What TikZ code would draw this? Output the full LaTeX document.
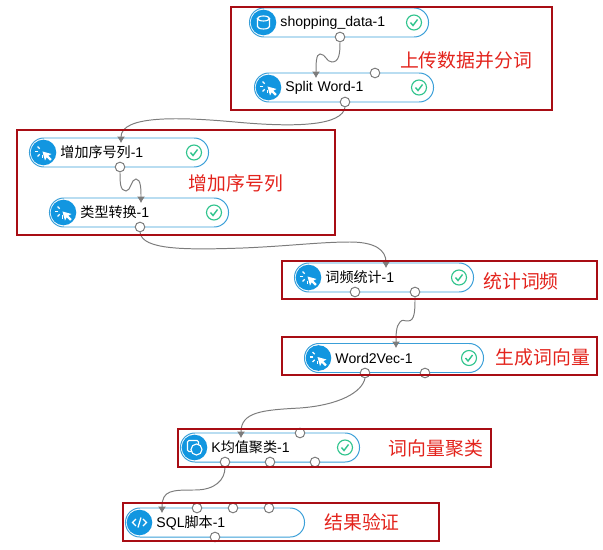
\documentclass[tikz,border=0pt]{standalone}
\usepackage{fontspec}
\setmainfont{Liberation Sans}
\newfontfamily\cjk{Noto Sans CJK SC}
\usepackage{tikz}
\usetikzlibrary{arrows.meta,calc}
\definecolor{pillblue}{HTML}{3A9FD8}
\definecolor{iconblue}{HTML}{1296E0}
\definecolor{okgreen}{HTML}{2FC48D}
\definecolor{boxred}{HTML}{A80D14}
\definecolor{notered}{HTML}{E3231C}
\definecolor{linkgray}{HTML}{7C7C7C}
\tikzset{
  okmark/.pic={
    \draw[okgreen, line width=0.8pt] (0,0) circle (7.5);
    \draw[okgreen, line width=1pt] (-3.5,0) -- (-1,3) -- (3.5,-3);
  },
  cursoricon/.pic={
    \fill[white] (-1,-1) -- (1.5,8) -- (3.2,4.8) -- (6.6,8.2) -- (8.2,6.6) -- (4.8,3.2) -- (8,1.5) -- cycle;
    \foreach \ang in {90,135,180,225,45}
      \draw[white, line width=0.9pt] (-1,-1) ++(\ang:4) -- ++(\ang:3);
  },
  dataicon/.pic={
    \draw[white, line width=0.8pt] (-6,-4) -- (-6,4) arc[start angle=180, end angle=0, x radius=6, y radius=2.5] -- (6,-4);
    \draw[white, line width=0.8pt] (0,-4) ellipse (6 and 2.5);
  },
  clustericon/.pic={
    \draw[white, line width=0.8pt, rounded corners=1pt] (-7,-7) rectangle (4,4);
    \draw[white, line width=0.8pt, fill=iconblue] (2,2) circle (5.5);
  },
  sqlicon/.pic={
    \draw[white, line width=0.9pt] (-3.5,-3.5) -- (-7,0) -- (-3.5,3.5);
    \draw[white, line width=0.9pt] (3.5,-3.5) -- (7,0) -- (3.5,3.5);
    \draw[white, line width=0.9pt] (1.5,-5) -- (-1.5,5);
  }
}
\begin{document}
\begin{tikzpicture}[
    x=0.025cm, y=-0.025cm,
    font=\fontsize{10}{12}\selectfont,
    module/.style={draw=pillblue, fill=white, rounded corners=3.6mm, minimum width=4.475cm, minimum height=0.725cm, inner xsep=0pt, text width=2.925cm, align=left, line width=0.7pt},
    iconbase/.style={circle, fill=iconblue, minimum size=0.64cm, inner sep=0pt},
    port/.style={circle, draw=linkgray, fill=white, minimum size=0.24cm, inner sep=0pt, line width=0.7pt},
    link/.style={draw=linkgray, line width=0.7pt, -{Latex[length=1.6mm, width=2mm]}},
    groupbox/.style={draw=boxred, line width=1.5pt},
    note/.style={text=notered, font=\cjk\fontsize{13.4}{16}\selectfont, inner sep=0pt}
]
\useasboundingbox (0,0) rectangle (603,550);

\node[module] (shopping) at (339,22.5) {shopping\_data-1};
\node[module] (split) at (344,87.5) {Split Word-1};
\node[module] (addseq) at (119,152.5) {{\cjk 增加序号列}-1};
\node[module] (cast) at (139,212.5) {{\cjk 类型转换}-1};
\node[module] (wordfreq) at (384,277.5) {{\cjk 词频统计}-1};
\node[module] (wordvec) at (394,358) {Word2Vec-1};
\node[module] (kmeans) at (270,447.5) {K{\cjk 均值聚类}-1};
\node[module] (sqlscript) at (215,522.5) {SQL{\cjk 脚本}-1};

\foreach \m/\ic in {shopping/dataicon, split/cursoricon, addseq/cursoricon, cast/cursoricon, wordfreq/cursoricon, wordvec/cursoricon, kmeans/clustericon, sqlscript/sqlicon} {
  \node[iconbase] (\m-icon) at ($(\m.west)+(14.5,0)$) {};
  \pic at (\m-icon) {\ic};
}
\foreach \m in {shopping, split, addseq, cast, wordfreq, wordvec, kmeans}
  \pic at ($(\m.east)+(-15,0)$) {okmark};

\foreach \p/\px/\py in {shopping-out/340/37, split-top/375/73, split-out/345/102, addseq-out/120/167, cast-out/140/227, wordfreq-a/355/292, wordfreq-b/415/292, wordvec-out/365/373, wordvec-b/425/373, kmeans-top/300/433, kmeans-out/225/462, kmeans-b/270/462, kmeans-c/315/462, sqlscript-a/197/508, sqlscript-b/233/508, sqlscript-c/269/508, sqlscript-d/215/537}
  \node[port] (\p) at (\px,\py) {};

\coordinate (split-in) at (316,78);
\coordinate (addseq-in) at (121,143);
\coordinate (cast-in) at (141,203);
\coordinate (wordfreq-in) at (386,268);
\coordinate (wordvec-in) at (396,348);
\coordinate (kmeans-in) at (241,438);
\coordinate (sqlscript-in) at (162,513);

\draw[link] (shopping-out.south) .. controls (340,54) and (339,62) .. (332,62) .. controls (326,62) and (326,54) .. (320,54) .. controls (316,54) and (316,64) .. (split-in);
\draw[link] (split-out.south) .. controls (342,125) and (300,128) .. (235,122) .. controls (180,117) and (121,115) .. (addseq-in);
\draw[link] (addseq-out.south) .. controls (120,182) and (120,191) .. (126,191) .. controls (131,191) and (131,179) .. (136,179) .. controls (141,179) and (141,190) .. (cast-in);
\draw[link] (cast-out.south) .. controls (142,250) and (185,250) .. (243,248) .. controls (290,246) and (320,242) .. (350,242) .. controls (375,242) and (386,250) .. (wordfreq-in);
\draw[link] (wordfreq-b.south) .. controls (415,310) and (415,321) .. (408,321) .. controls (403,321) and (403,319) .. (400,322) .. controls (396,326) and (396,335) .. (wordvec-in);
\draw[link] (wordvec-out.south) .. controls (362,392) and (340,405) .. (300,408) .. controls (262,410) and (241,412) .. (kmeans-in);
\draw[link] (kmeans-out.south) .. controls (225,480) and (215,490) .. (195,490) .. controls (172,490) and (162,490) .. (sqlscript-in);

% red frames over the modules
\draw[groupbox] (231,7) rectangle (552,110);
\draw[groupbox] (17,130) rectangle (335,235);
\draw[groupbox] (282,261) rectangle (597,299);
\draw[groupbox] (282,337) rectangle (597,375);
\draw[groupbox] (178,429) rectangle (491,467);
\draw[groupbox] (123,503) rectangle (439,541);

\node[note] (upload) at (466,60) {上传数据并分词};
\node[note] (seqnote) at (236,183) {增加序号列};
\node[note] (freqnote) at (521,281) {统计词频};
\node[note] (vecnote) at (543,357) {生成词向量};
\node[note] (clusternote) at (436,448) {词向量聚类};
\node[note] (checknote) at (362,522) {结果验证};
\end{tikzpicture}
\end{document}
